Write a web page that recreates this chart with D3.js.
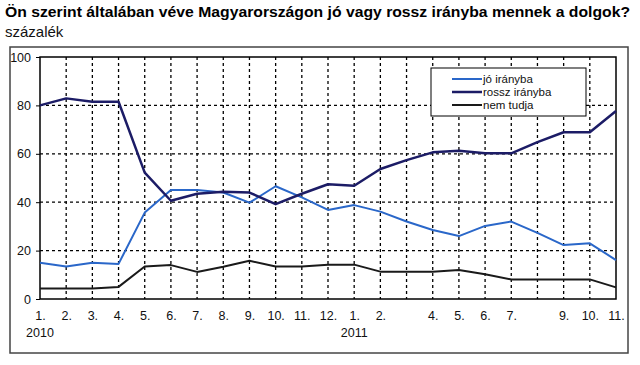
<!DOCTYPE html>
<html><head><meta charset="utf-8">
<script src="https://cdn.jsdelivr.net/npm/d3@7"></script>
<style>body{margin:0;background:#fff;}svg{display:block;font-family:"Liberation Sans",Arial,sans-serif;}</style>
</head><body>
<svg id="c" width="640" height="365"></svg>
<script>
const monthLabels = ["1.","2.","3.","4.","5.","6.","7.","8.","9.","10.","11.","12.","1.","2.","","4.","5.","6.","7.","","9.","10.","11."];
const yearLabels = [{i:0, t:"2010"},{i:12, t:"2011"}];
const joIranyba    = [15,13.4,15,14.5,35.7,45,45,44,39.8,46.6,42,36.8,38.8,36.1,32,28.5,26,30.2,32,27.3,22.3,23,16.1];
const rosszIranyba = [80,82.9,81.5,81.5,52.2,40.6,43.5,44.3,44,39.2,43.5,47.4,46.8,53.7,57.4,60.6,61.3,60.2,60.2,64.8,68.9,68.9,77.7];
const nemTudja     = [4.3,4.3,4.3,5,13.4,14,11.2,13.3,15.8,13.4,13.4,14.2,14.2,11.3,11.3,11.3,12,10.2,8.1,8.1,8.1,8.1,4.8];
const yTicks = [0,20,40,60,80,100];
const seriesNames = ["jó irányba","rossz irányba","nem tudja"];
const seriesColors = ["#2a67c9","#1c1c66","#1a1a1a"];
const seriesWidths = [2,2.5,2];

const svg = d3.select("#c");
const L=40,R=616,T=57,B=299;
const x = d3.scalePoint().domain(d3.range(monthLabels.length)).range([L,R]);
const y = d3.scaleLinear().domain([0,100]).range([B,T]);

// title
svg.append("text").attr("x",5).attr("y",17).attr("font-weight","bold").attr("font-size",15.5)
  .attr("textLength",625).attr("lengthAdjust","spacingAndGlyphs")
  .text("Ön szerint általában véve Magyarországon jó vagy rossz irányba mennek a dolgok?");
svg.append("text").attr("x",5).attr("y",37).attr("font-size",15).attr("fill","#111").text("százalék");

// outer frame
svg.append("rect").attr("x",10).attr("y",47).attr("width",618).attr("height",306)
  .attr("fill","none").attr("stroke","#444").attr("stroke-width",1.5);

// grid
const g = svg.append("g");
g.selectAll(".vg").data(d3.range(1,monthLabels.length-1)).join("line")
  .attr("x1",d=>x(d)).attr("x2",d=>x(d)).attr("y1",T).attr("y2",B)
  .attr("stroke","#000").attr("stroke-width",1.3).attr("stroke-dasharray","3,3");
g.selectAll(".hg").data(yTicks.slice(1,-1)).join("line")
  .attr("x1",L).attr("x2",R).attr("y1",d=>y(d)).attr("y2",d=>y(d))
  .attr("stroke","#000").attr("stroke-width",1.3).attr("stroke-dasharray","3,3");

// y axis
const ya = svg.append("g").attr("transform",`translate(${L},0)`)
  .call(d3.axisLeft(y).tickValues(yTicks).tickSize(4).tickPadding(5));
ya.select(".domain").remove();
ya.selectAll("line").attr("stroke","#000");
ya.selectAll("text").attr("font-size",12.5).attr("font-family","Liberation Sans, Arial").attr("fill","#111");

// x labels
const xa = svg.append("g").attr("transform",`translate(0,${B})`)
  .call(d3.axisBottom(x).tickFormat(i=>monthLabels[i]).tickSize(0).tickPadding(12));
xa.select(".domain").remove();
xa.selectAll("text").attr("font-size",12.5).attr("font-family","Liberation Sans, Arial").attr("fill","#111");
svg.selectAll(".yr").data(yearLabels).join("text")
  .attr("x",d=>x(d.i)).attr("y",337).attr("text-anchor","middle").attr("font-size",12.5).attr("fill","#111").text(d=>d.t);

// plot border
svg.append("rect").attr("x",L).attr("y",T).attr("width",R-L).attr("height",B-T)
  .attr("fill","none").attr("stroke","#000").attr("stroke-width",1.5);

// lines
const data = [joIranyba, rosszIranyba, nemTudja];
const line = d3.line().x((d,i)=>x(i)).y(d=>y(d));
svg.selectAll(".s").data(data).join("path")
  .attr("d",line).attr("fill","none")
  .attr("stroke",(d,i)=>seriesColors[i]).attr("stroke-width",(d,i)=>seriesWidths[i])
  .attr("stroke-linejoin","round");

// legend
const lg = svg.append("g");
lg.append("rect").attr("x",431).attr("y",68).attr("width",155).attr("height",48)
  .attr("fill","#fff").attr("stroke","#000").attr("stroke-width",1);
seriesNames.forEach((n,i)=>{
  const cy = 79 + i*13;
  lg.append("line").attr("x1",452).attr("x2",482).attr("y1",cy).attr("y2",cy)
    .attr("stroke",seriesColors[i]).attr("stroke-width",seriesWidths[i]);
  lg.append("text").attr("x",483).attr("y",cy+4).attr("font-size",11.5).attr("fill","#111").text(n);
});
</script>
</body></html>
